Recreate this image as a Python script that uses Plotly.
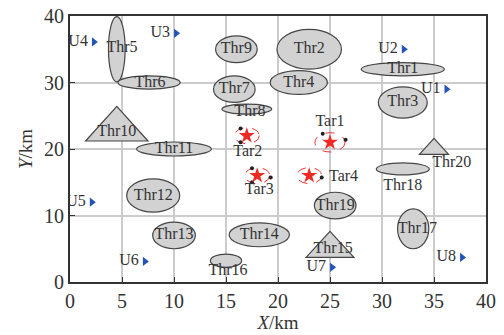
import plotly.graph_objects as go

# Elliptical threat zones: name, centre x, centre y, semi-axis x, semi-axis y
ell_names = ["Thr1", "Thr2", "Thr3", "Thr4", "Thr5", "Thr6", "Thr7", "Thr8", "Thr9",
             "Thr11", "Thr12", "Thr13", "Thr14", "Thr16", "Thr17", "Thr18", "Thr19"]
ell_cx = [32, 23, 32, 22, 4.5, 7.6, 15.8, 17, 16, 10, 8, 10, 18.2, 15, 33, 32, 25.5]
ell_cy = [32, 35, 27, 30, 35, 30, 29, 26, 35, 20, 13, 7, 7.1, 3.2, 8, 17, 11.5]
ell_ax = [4.0, 3.1, 2.35, 2.75, 0.8, 3.0, 2.0, 2.4, 2.0, 3.6, 2.55, 2.05, 2.9, 1.5, 1.5, 2.55, 2.0]
ell_ay = [1.0, 3.0, 2.35, 1.8, 4.9, 1.0, 2.0, 0.75, 2.0, 1.05, 2.5, 2.0, 1.8, 1.0, 3.0, 0.9, 2.0]
ell_lx = [32, 23, 32, 22, 5.0, 7.7, 15.8, 17.3, 16, 10, 8, 10, 18.2, 15.2, 33.4, 32, 25.5]
ell_ly = [32, 35, 27, 30, 35.2, 30, 29, 25.5, 35, 20, 13, 7, 7.1, 1.6, 7.9, 14.5, 11.5]

# Triangular threat zones: name, apex x, apex y, base y, half base width
tri_names = ["Thr10", "Thr15", "Thr20"]
tri_x = [4.5, 25, 35]
tri_top = [26.4, 7.6, 21.6]
tri_base = [21.2, 3.7, 19.2]
tri_half = [3.0, 2.3, 1.4]
tri_lx = [4.5, 25.3, 36.7]
tri_ly = [22.6, 4.9, 17.9]

# Targets
tar_names = ["Tar1", "Tar2", "Tar3", "Tar4"]
tar_x = [25, 17, 18, 23]
tar_y = [21, 22, 16, 16]
tar_r = [1.45, 1.2, 1.2, 1.2]
tar_lx = [25, 17.1, 18.2, 26.3]
tar_ly = [24.0, 19.6, 13.8, 15.8]

# Small black points on the target circles
dot_x = [24.3, 26.5, 16.4, 16.4, 17.5, 19.3, 17.5, 24.2]
dot_y = [22.3, 21.4, 23.1, 21.0, 17.1, 15.7, 15.0, 15.7]

# UAVs
uav_names = ["U1", "U2", "U3", "U4", "U5", "U6", "U7", "U8"]
uav_x = [36.2, 32.1, 10.2, 2.3, 2.1, 7.2, 25.2, 37.7]
uav_y = [29.0, 35.0, 37.4, 36.1, 12.0, 3.1, 2.2, 3.7]

FONT = "Liberation Serif"
TXT = "#333333"
GRAY = "#d2d2d2"
EDGE = "#454545"

fig = go.Figure()
shapes = []
for cx, cy, ax, ay in zip(ell_cx, ell_cy, ell_ax, ell_ay):
    shapes.append(dict(type="circle", xref="x", yref="y", x0=cx - ax, x1=cx + ax,
                       y0=cy - ay, y1=cy + ay, fillcolor=GRAY,
                       line=dict(color=EDGE, width=1.2), layer="between"))
for cx, top, base, h in zip(tri_x, tri_top, tri_base, tri_half):
    shapes.append(dict(type="path", xref="x", yref="y",
                       path=f"M {cx - h},{base} L {cx},{top} L {cx + h},{base} Z",
                       fillcolor=GRAY, line=dict(color=EDGE, width=1.2), layer="between"))
for cx, cy, r in zip(tar_x, tar_y, tar_r):
    shapes.append(dict(type="circle", xref="x", yref="y", x0=cx - r, x1=cx + r,
                       y0=cy - r, y1=cy + r, fillcolor="rgba(0,0,0,0)",
                       line=dict(color="#ee3030", width=1, dash="dash"), layer="between"))

fig.add_trace(go.Scatter(x=ell_lx + tri_lx, y=ell_ly + tri_ly, mode="text",
                         text=ell_names + tri_names,
                         textfont=dict(family=FONT, size=16, color=TXT),
                         hoverinfo="skip", showlegend=False))
fig.add_trace(go.Scatter(x=dot_x, y=dot_y, mode="markers",
                         marker=dict(color="#222222", size=4), showlegend=False))
fig.add_trace(go.Scatter(x=tar_x, y=tar_y, mode="markers",
                         marker=dict(symbol="star", color="#ee2a24", size=12, line=dict(width=0)),
                         showlegend=False))
fig.add_trace(go.Scatter(x=tar_lx, y=tar_ly, mode="text", text=tar_names,
                         textfont=dict(family=FONT, size=16, color=TXT), showlegend=False))
fig.add_trace(go.Scatter(x=uav_x, y=uav_y, mode="markers+text", text=uav_names,
                         textposition="middle left",
                         textfont=dict(family=FONT, size=16, color=TXT),
                         marker=dict(symbol="triangle-right", color="#2454b8", size=8),
                         showlegend=False))

axis_common = dict(showgrid=True, gridcolor="#cccccc", gridwidth=1.5, zeroline=False,
                   showline=True, linecolor="#333333", linewidth=1.8, mirror=True,
                   ticks="inside", ticklen=5, tickcolor="#333333", automargin=False,
                   tickfont=dict(family=FONT, size=20, color=TXT))

fig.update_layout(
    width=504, height=335,
    margin=dict(l=70, r=18, t=16, b=53),
    paper_bgcolor="white", plot_bgcolor="white",
    shapes=shapes,
    xaxis=dict(range=[0, 40], dtick=5,
               title=dict(text="<i>X</i>/km", font=dict(family=FONT, size=19, color=TXT), standoff=2),
               **axis_common),
    yaxis=dict(range=[0, 40], dtick=10,
               title=dict(text="<i>Y</i>/km", font=dict(family=FONT, size=19, color=TXT), standoff=6),
               **axis_common),
)

fig.write_html("out.html")
